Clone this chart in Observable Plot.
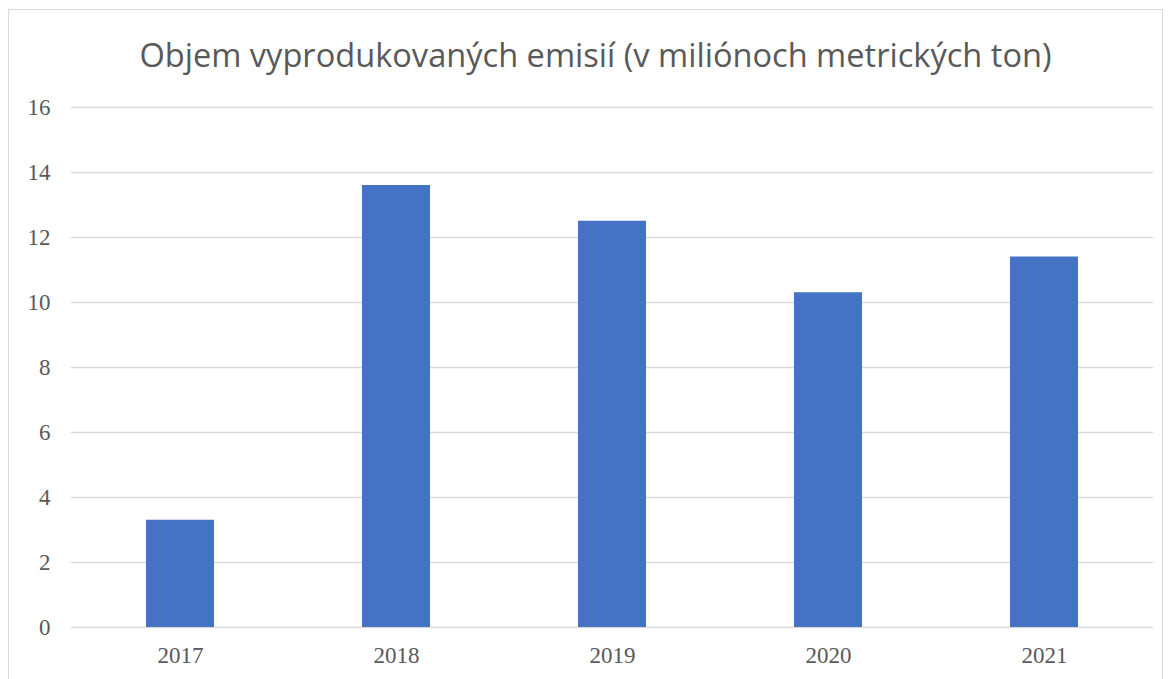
<!DOCTYPE html>
<html>
<head>
<meta charset="utf-8">
<script src="https://cdn.jsdelivr.net/npm/d3@7"></script>
<script src="https://cdn.jsdelivr.net/npm/@observablehq/plot@0.6"></script>
<style>
  html, body { margin: 0; padding: 0; background: #fff; width: 1171px; height: 679px; overflow: hidden; }
  #frame { position: absolute; left: 8px; top: 9px; width: 1155px; height: 700px; border: 1px solid #d9d9d9; box-sizing: border-box; }
  #title { position: absolute; left: 0; top: 33px; width: 1191px; text-align: center; font-family: "Open Sans", sans-serif; font-size: 32.6px; color: #595959; white-space: nowrap; line-height: 44px; }
  #chart { position: absolute; left: 0; top: 80px; }
</style>
</head>
<body>
<div id="frame"></div>
<div id="title">Objem vyprodukovaných emisií (v miliónoch metrických ton)</div>
<div id="chart"></div>
<script>
const years = ["2017", "2018", "2019", "2020", "2021"];
const emissions = [3.3, 13.6, 12.5, 10.3, 11.4];
const yTicks = [0, 2, 4, 6, 8, 10, 12, 14, 16];

const data = years.map((year, i) => ({year, value: emissions[i]}));

const plot = Plot.plot({
  width: 1171,
  height: 599,
  marginTop: 27,
  marginBottom: 52,
  marginLeft: 71,
  marginRight: 18,
  style: {fontFamily: "'Liberation Serif', 'Times New Roman', serif", fontSize: "23px", color: "#595959", background: "transparent"},
  x: {domain: years, paddingInner: 0.686, paddingOuter: 0.343, label: null},
  y: {domain: [0, 16], ticks: yTicks, label: null},
  marks: [
    Plot.gridY(yTicks, {stroke: "#d9d9d9", strokeOpacity: 1, strokeWidth: 1.5}),
    Plot.barY(data, {x: "year", y: "value", fill: "#4472c4"}),
    Plot.axisY(yTicks, {tickSize: 0, tickPadding: 21, fontSize: 23, fill: "#595959"}),
    Plot.axisX({tickSize: 0, tickPadding: 19, fontSize: 23, fill: "#595959"})
  ]
});
document.getElementById("chart").appendChild(plot);
</script>
</body>
</html>
